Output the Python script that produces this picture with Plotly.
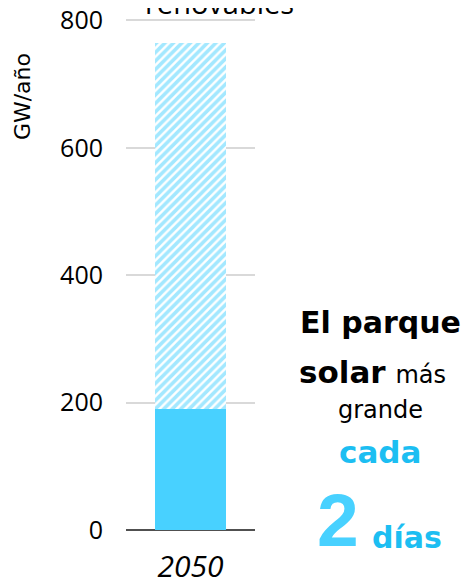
import plotly.graph_objects as go

years = ['2050']
solar_base = [190]
solar_extra = [575]
tick_vals = [0, 200, 400, 600, 800]

cyan = '#48D1FF'
cyan_text = '#1CBEF2'

fig = go.Figure()
fig.add_trace(go.Bar(x=years, y=solar_base, marker=dict(color=cyan, line=dict(width=0)),
                     width=0.558, showlegend=False))
fig.add_trace(go.Bar(x=years, y=solar_extra,
                     marker=dict(color='white', line=dict(width=0),
                                 pattern=dict(shape='/', fgcolor=cyan, bgcolor='white',
                                              size=6, solidity=0.6)),
                     width=0.558, showlegend=False))

# page body adds ~8px offset, so margins are shifted to compensate
fig.update_layout(
    barmode='stack',
    width=474, height=582,
    margin=dict(l=118, r=227, t=6, b=60, autoexpand=False),
    plot_bgcolor='white', paper_bgcolor='white',
    font=dict(family='Open Sans', size=20, color='black'),
    xaxis=dict(tickfont=dict(family='Open Sans', size=30), showgrid=False,
               ticks='', showline=False, ticklabelstandoff=16),
    yaxis=dict(range=[0, 810], tickvals=tick_vals, showgrid=True, gridcolor='#d9d9d9',
               gridwidth=2, zeroline=True, zerolinecolor='#505050', zerolinewidth=2,
               ticklabelstandoff=22, ticklabeloverflow='allow',
               tickfont=dict(family='Open Sans', size=25)),
)
fig.update_xaxes(ticktext=['<i>2050</i>'], tickvals=years)

fig.add_annotation(text='GW/año', xref='paper', yref='paper', x=-0.802, y=0.84,
                   xanchor='center', yanchor='middle',
                   textangle=-90, showarrow=False, font=dict(family='DejaVu Sans', size=22))
fig.add_annotation(text='renovables', xref='paper', yref='paper', x=0.725, y=1.023,
                   xanchor='center', yanchor='middle', showarrow=False,
                   font=dict(family='Open Sans', size=29))

txt = dict(xref='paper', yref='paper', showarrow=False, xanchor='center', yanchor='middle')
fig.add_annotation(text='<b>El parque</b>', x=1.969, y=0.403,
                   font=dict(family='DejaVu Sans', size=30, color='black'), **txt)
fig.add_annotation(text='<b>solar</b> <span style="font-size:24px">más</span>', x=1.907, y=0.306,
                   font=dict(family='DejaVu Sans', size=31, color='black'), **txt)
fig.add_annotation(text='grande', x=1.969, y=0.232,
                   font=dict(family='DejaVu Sans', size=24, color='black'), **txt)
fig.add_annotation(text='<b>cada</b>', x=1.969, y=0.151,
                   font=dict(family='DejaVu Sans', size=31, color=cyan_text), **txt)
fig.add_annotation(text='<b>2</b>', x=1.64, y=0.0195,
                   font=dict(family='Liberation Sans', size=75, color=cyan), **txt)
fig.add_annotation(text='<b>días</b>', x=2.182, y=-0.014,
                   font=dict(family='DejaVu Sans', size=30, color=cyan_text), **txt)

fig.write_html('out.html')
